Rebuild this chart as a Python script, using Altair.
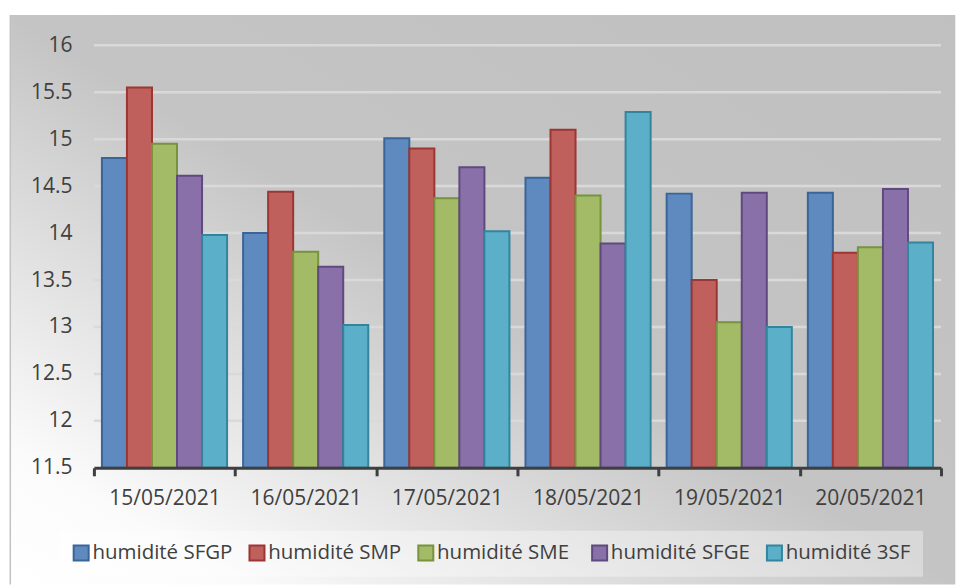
import altair as alt
import pandas as pd

# Daily humidity readings per sensor
dates = ["15/05/2021", "16/05/2021", "17/05/2021", "18/05/2021", "19/05/2021", "20/05/2021"]
series = ["humidité SFGP", "humidité SMP", "humidité  SME", "humidité SFGE", "humidité 3SF"]
sfgp = [14.80, 14.00, 15.01, 14.59, 14.42, 14.43]
smp = [15.55, 14.44, 14.90, 15.10, 13.50, 13.79]
sme = [14.95, 13.80, 14.37, 14.40, 13.05, 13.85]
sfge = [14.61, 13.64, 14.70, 13.89, 14.43, 14.47]
s3sf = [13.98, 13.02, 14.02, 15.29, 13.00, 13.90]
y_ticks = [11.5, 12, 12.5, 13, 13.5, 14, 14.5, 15, 15.5, 16]

fills = ["#5f8ac0", "#c0605c", "#a3bb66", "#8a70a8", "#5cafc8"]
strokes = ["#3b6597", "#9b3633", "#77933c", "#5f4a7e", "#31859c"]

rows = []
for name, vals in zip(series, [sfgp, smp, sme, sfge, s3sf]):
    for d, v in zip(dates, vals):
        rows.append({"date": d, "series": name, "value": v})
df = pd.DataFrame(rows)

W, H = 848, 423
FONT = "Open Sans"
TXT = "#404040"

# Frame background with diagonal grey gradient
bg = alt.Chart(pd.DataFrame({"k": [0]})).mark_rect(
    color=alt.LinearGradient(
        gradient="linear", x1=0, y1=1, x2=1, y2=0,
        stops=[alt.GradientStop(offset=0, color="#ffffff"),
               alt.GradientStop(offset=0.12, color="#fbfbfb"),
               alt.GradientStop(offset=0.5, color="#c4c4c4"),
               alt.GradientStop(offset=1, color="#c0c0c0")]),
).encode(
    x=alt.value(-83.7), x2=alt.value(862.3),
    y=alt.value(-30.3), y2=alt.value(539.7),
)

# Thin left edge of the frame
edge = alt.Chart(pd.DataFrame({"k": [0]})).mark_rule(
    color="#c2c2c2", strokeWidth=1.5
).encode(x=alt.value(-83.7), y=alt.value(-30.3), y2=alt.value(539.7))

# Horizontal gridlines
grid = alt.Chart(pd.DataFrame({"v": y_ticks[1:]})).mark_rule(
    color="#d9d9d9", strokeWidth=2.5
).encode(y=alt.Y("v:Q", scale=alt.Scale(domain=[11.5, 16], nice=False, zero=False)))

bars = alt.Chart(df).mark_bar(strokeWidth=2, clip=True).encode(
    x=alt.X("date:N", sort=dates, title=None,
            scale=alt.Scale(paddingInner=0, paddingOuter=0),
            axis=alt.Axis(labelAngle=0, labelFont=FONT, labelFontSize=21, labelColor=TXT,
                          domainColor="#3f3f3f", domainWidth=3, tickColor="#3f3f3f",
                          tickWidth=3, tickSize=8, tickBand="extent", labelPadding=12,
                          grid=False, zindex=1)),
    xOffset=alt.XOffset("series:N", sort=series,
                        scale=alt.Scale(paddingInner=0, paddingOuter=0.32)),
    y=alt.Y("value:Q", title=None,
            scale=alt.Scale(domain=[11.5, 16], nice=False, zero=False),
            axis=alt.Axis(values=y_ticks, labelExpr="'' + datum.value", labelFont=FONT,
                          labelFontSize=21, labelColor=TXT, labelPadding=22,
                          ticks=False, domain=False, grid=False, zindex=1)),
    y2=alt.datum(11.5),
    fill=alt.Fill("series:N", sort=series, scale=alt.Scale(domain=series, range=fills),
                  legend=alt.Legend(title=None)),
    stroke=alt.Stroke("series:N", sort=series, scale=alt.Scale(domain=series, range=strokes),
                      legend=alt.Legend(title=None)),
)

chart = alt.layer(bg, edge, grid, bars).properties(
    width=W, height=H,
    padding={"left": 9, "top": 13, "right": 0, "bottom": 0},
).configure_view(stroke=None).configure_legend(
    orient="none", legendX=-35, legendY=486, direction="horizontal", columns=5,
    symbolType="square", symbolSize=225, symbolStrokeWidth=2, symbolOpacity=1,
    labelFont=FONT, labelFontSize=20.5, labelColor=TXT, labelLimit=0,
    columnPadding=12, labelOffset=1, padding=12,
    fillColor="rgba(255,255,255,0.35)",
)

chart.save("out.html", embed_options={"renderer": "svg", "actions": False})
